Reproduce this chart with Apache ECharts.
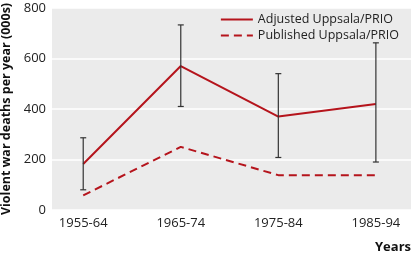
<!DOCTYPE html>
<html>
<head>
<meta charset="utf-8">
<script src="https://cdn.jsdelivr.net/npm/echarts@6/dist/echarts.min.js"></script>
<style>
  html, body { margin: 0; padding: 0; background: #fff; }
  #chart { width: 412px; height: 258px; }
</style>
</head>
<body>
<div id="chart"></div>
<script>
const periods = ['1955-64', '1965-74', '1975-84', '1985-94']
const adjusted = [182, 570, 370, 420]
const published = [58, 250, 138, 138]
// [low, high] of the error bars on the adjusted series
const errLow = [80, 410, 208, 190]
const errHigh = [286, 733, 540, 662]
const yTicks = [0, 200, 400, 600, 800]

const red = '#b5141c'
const font = 'Open Sans'

const chart = echarts.init(document.getElementById('chart'))

const idx = periods.map((_, i) => i)

chart.setOption({
  backgroundColor: '#fff',
  textStyle: { fontFamily: font },
  grid: {
    left: 52, right: 1, top: 8, bottom: 48,
    outerBoundsMode: 'none',
    show: true, backgroundColor: '#ebebeb', borderWidth: 0
  },
  legend: {
    data: ['Adjusted Uppsala/PRIO', 'Published Uppsala/PRIO'],
    orient: 'vertical',
    right: 8, top: 8,
    itemWidth: 32, itemHeight: 10, itemGap: 3,
    itemStyle: { opacity: 0 },
    textStyle: { fontSize: 12.5, color: '#222', fontFamily: font }
  },
  xAxis: {
    type: 'value',
    min: -0.32, max: 3.36,
    axisLine: { show: false },
    axisTick: { show: false },
    splitLine: { show: false },
    axisLabel: {
      customValues: idx,
      formatter: v => periods[Math.round(v)],
      fontSize: 13, color: '#222', margin: 7
    },
    name: 'Years',
    nameLocation: 'end',
    nameGap: 0,
    nameTextStyle: { fontWeight: 'bold', fontSize: 13, color: '#111', align: 'right', verticalAlign: 'top', padding: [31, 0, 0, 0] }
  },
  yAxis: {
    type: 'value',
    min: 0, max: 800, interval: 200,
    axisLine: { show: false },
    axisTick: { show: false },
    splitLine: { lineStyle: { color: '#fff', width: 1.5 } },
    axisLabel: { fontSize: 13, color: '#222', margin: 6, formatter: v => yTicks.includes(v) ? String(v) : '' },
    name: 'Violent war deaths per year (000s)',
    nameLocation: 'middle',
    nameGap: 34,
    nameTextStyle: { fontWeight: 'bold', fontSize: 12.5, color: '#111' }
  },
  series: [
    {
      name: 'Adjusted Uppsala/PRIO',
      type: 'line',
      data: idx.map(i => [i, adjusted[i]]),
      symbol: 'none',
      lineStyle: { color: red, width: 2 },
      itemStyle: { color: red },
      z: 3
    },
    {
      name: 'Published Uppsala/PRIO',
      type: 'line',
      data: idx.map(i => [i, published[i]]),
      symbol: 'none',
      lineStyle: { color: red, width: 2, type: [8, 5] },
      itemStyle: { color: red },
      z: 3
    },
    {
      name: 'err',
      type: 'custom',
      data: idx.map(i => [i, errLow[i], errHigh[i]]),
      renderItem: (params, api) => {
        const lo = api.coord([api.value(0), api.value(1)])
        const hi = api.coord([api.value(0), api.value(2)])
        const c = 3
        const style = { stroke: '#333', lineWidth: 1.2 }
        return {
          type: 'group',
          children: [
            { type: 'line', shape: { x1: lo[0], y1: lo[1], x2: hi[0], y2: hi[1] }, style },
            { type: 'line', shape: { x1: lo[0] - c, y1: lo[1], x2: lo[0] + c, y2: lo[1] }, style },
            { type: 'line', shape: { x1: hi[0] - c, y1: hi[1], x2: hi[0] + c, y2: hi[1] }, style }
          ]
        }
      },
      z: 4
    }
  ]
})
</script>
</body>
</html>
